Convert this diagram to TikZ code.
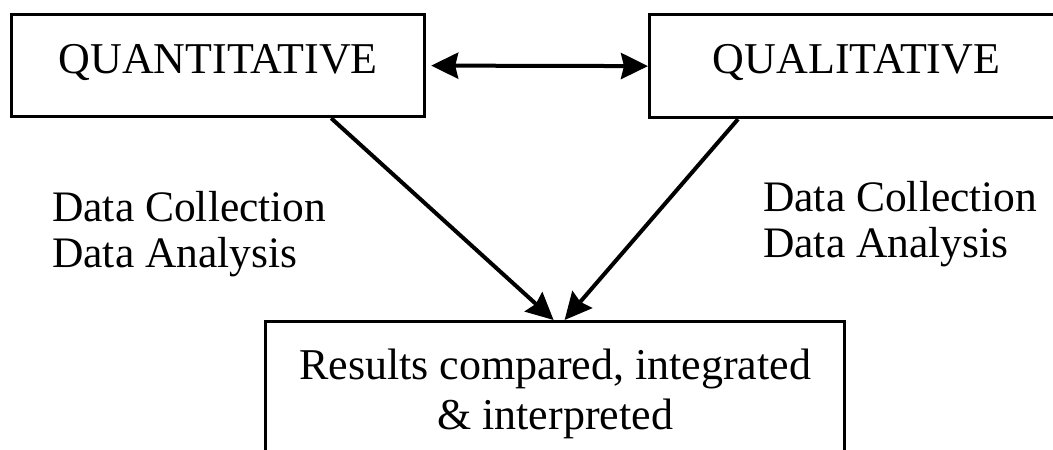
\documentclass[tikz,border=0pt]{standalone}
\usepackage{fontspec}
\setmainfont{Liberation Serif}
\usetikzlibrary{arrows.meta}
\tikzstyle{box}=[draw, line width=3.2pt, inner sep=0pt, anchor=north west, font=\fontsize{44}{50}\selectfont]
\tikzstyle{pfeil}=[line width=4pt, >={Stealth[length=27pt,width=26pt,inset=3pt]}]
\tikzstyle{datentext}=[align=left, inner sep=0pt, anchor=north west, font=\fontsize{43.5}{46}\selectfont]

\begin{document}
\begin{tikzpicture}[x=1pt,y=-1pt]
			% Rahmen festlegen
			\useasboundingbox (0,0) rectangle (1053,450);
			\clip (0,0) rectangle (1053,450);
			% Kaesten zeichnen
			\node[box, minimum width=413pt, text height=59pt, text depth=43pt] (quant) at (10,13) {QUANTITATIVE};
			\node[box, minimum width=414pt, text height=59pt, text depth=44pt] (qual) at (648,13) {QUALITATIVE};
			\node[box, minimum width=579pt, minimum height=144pt, align=center] (result) at (264,320) {Results compared, integrated\\ \& interpreted};
			% Texte setzen
			\node[datentext] (quantdata) at (52,191) {Data Collection\\ Data Analysis};
			\node[datentext] (qualdata) at (763,181) {Data Collection\\ Data Analysis};
			% Pfeile zeichnen
			\draw[pfeil,<->] ([xshift=5pt]quant.east) -- (qual.west);
			\draw[pfeil,->] ([xshift=-95pt]quant.south east) -- ([xshift=-1.5pt]result.north);
			\draw[pfeil,->] ([xshift=90pt]qual.south west) -- ([xshift=9.5pt]result.north);
		\end{tikzpicture}
\end{document}
